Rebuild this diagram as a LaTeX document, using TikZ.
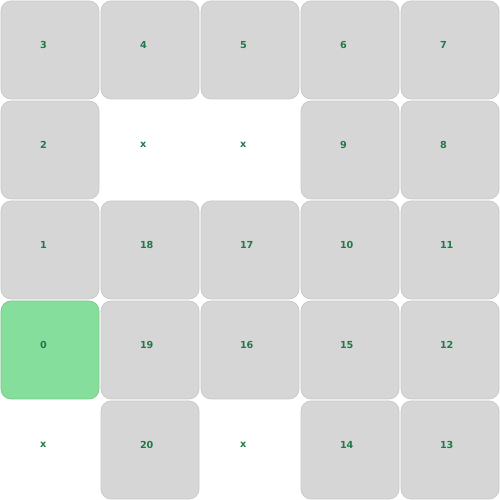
\documentclass[tikz,border=0pt]{standalone}
\usepackage{fontspec}
\setmainfont{DejaVu Sans}
\definecolor{grisCasilla}{RGB}{214,214,214}
\definecolor{bordeCasilla}{RGB}{200,200,200}
\definecolor{verdeInicio}{RGB}{134,222,156}
\definecolor{verdeTexto}{RGB}{30,122,72}
\begin{document}
\begin{tikzpicture}[x=2cm, y=2cm,
    casilla/.style={rectangle, rounded corners=0.2cm, fill=grisCasilla, draw=bordeCasilla, thin,
      minimum width=1.96cm, minimum height=1.96cm, inner sep=0pt,
      text width=0.4cm, align=left, text depth=0.2cm,
      font=\fontsize{5.5}{6}\selectfont\bfseries, text=verdeTexto},
    inicio/.style={casilla, fill=verdeInicio, draw=verdeInicio!90!black},
    hueco/.style={casilla, fill=none, draw=none}]
  % Fila superior
  \node[casilla] (c3) at (0.5,4.5) {3};
  \node[casilla] (c4) at (1.5,4.5) {4};
  \node[casilla] (c5) at (2.5,4.5) {5};
  \node[casilla] (c6) at (3.5,4.5) {6};
  \node[casilla] (c7) at (4.5,4.5) {7};

  % Segunda fila (dos huecos)
  \node[casilla] (c2) at (0.5,3.5) {2};
  \node[hueco] (h1) at (1.5,3.5) {x};
  \node[hueco] (h2) at (2.5,3.5) {x};
  \node[casilla] (c9) at (3.5,3.5) {9};
  \node[casilla] (c8) at (4.5,3.5) {8};

  % Tercera fila
  \node[casilla] (c1) at (0.5,2.5) {1};
  \node[casilla] (c18) at (1.5,2.5) {18};
  \node[casilla] (c17) at (2.5,2.5) {17};
  \node[casilla] (c10) at (3.5,2.5) {10};
  \node[casilla] (c11) at (4.5,2.5) {11};

  % Cuarta fila, con la casilla de inicio
  \node[inicio] (c0) at (0.5,1.5) {0};
  \node[casilla] (c19) at (1.5,1.5) {19};
  \node[casilla] (c16) at (2.5,1.5) {16};
  \node[casilla] (c15) at (3.5,1.5) {15};
  \node[casilla] (c12) at (4.5,1.5) {12};

  % Fila inferior
  \node[hueco] (h3) at (0.5,0.5) {x};
  \node[casilla] (c20) at (1.5,0.5) {20};
  \node[hueco] (h4) at (2.5,0.5) {x};
  \node[casilla] (c14) at (3.5,0.5) {14};
  \node[casilla] (c13) at (4.5,0.5) {13};

  % Caja fija del tablero
  \useasboundingbox (0,0) rectangle (5,5);
\end{tikzpicture}
\end{document}
